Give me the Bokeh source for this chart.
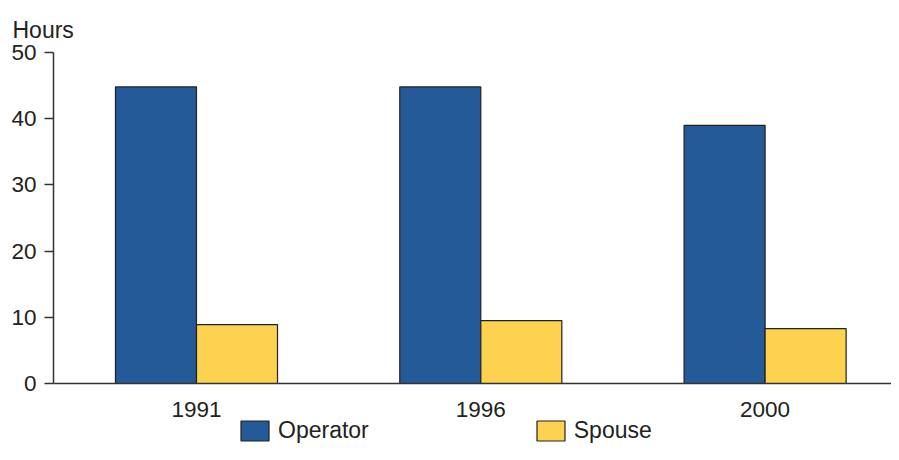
from bokeh.plotting import figure
from bokeh.models import Range1d, FixedTicker, Legend, LegendItem, ColumnDataSource, Span
from bokeh.embed import file_html
from bokeh.resources import INLINE
from bokeh.core.properties import value

years = ["1991", "1996", "2000"]
operator = [44.8, 44.8, 39.0]
spouse = [8.9, 9.5, 8.3]
series_names = ["Operator", "Spouse"]
y_ticks = [0, 10, 20, 30, 40, 50]

BLUE = "#235A97"
YELLOW = "#FDD24E"
FONT = "Liberation Sans"
TXT = "#222222"
AX = "#333333"

idx = list(range(len(years)))
bw = 0.285

W = 891
H = 444
TOP = 52
ZERO_PX = TOP + 331
PX_PER_UNIT = 331 / 50.0
y_start = -(H - ZERO_PX) / PX_PER_UNIT
UNIT_X = 284.3
x_start = -(196 - 53) / UNIT_X
x_end = (W - 196) / UNIT_X

# frame spans from the top border to canvas bottom; y below 0 holds the category labels and legend
p = figure(width=W, height=H, output_backend="svg", toolbar_location=None,
           x_range=Range1d(x_start, x_end), y_range=Range1d(y_start, 50),
           x_axis_location=None,
           min_border_left=53, min_border_right=0, min_border_top=TOP, min_border_bottom=0)
p.outline_line_color = None
p.grid.grid_line_color = None
p.background_fill_color = "white"
p.border_fill_color = "white"

p.title.text = "Hours"
p.title.align = "left"
p.title.offset = -41
p.title.text_font = FONT
p.title.text_font_size = "23px"
p.title.text_font_style = "normal"
p.title.text_color = TXT
p.title.standoff = 20

src_op = ColumnDataSource(dict(x=[i - bw / 2 for i in idx], top=operator))
src_sp = ColumnDataSource(dict(x=[i + bw / 2 for i in idx], top=spouse))
r_op = p.vbar(x="x", top="top", bottom=0, width=bw, source=src_op,
              fill_color=BLUE, line_color="#222222", line_width=1.2)
r_sp = p.vbar(x="x", top="top", bottom=0, width=bw, source=src_sp,
              fill_color=YELLOW, line_color="#222222", line_width=1.2)

# category axis: baseline line and labels
p.add_layout(Span(location=0, dimension="width", line_color=AX, line_width=1.5))
p.text(x=idx, y=[0] * len(idx), text=years, y_offset=26,
       text_align="center", text_baseline="alphabetic",
       text_font=value(FONT), text_font_size="22.5px", text_color=TXT)

# y axis
ya = p.yaxis[0]
ya.bounds = (0, 50)
ya.ticker = FixedTicker(ticks=y_ticks)
ya.major_tick_out = 9
ya.major_tick_in = 0
ya.major_tick_line_color = AX
ya.major_tick_line_width = 1.5
ya.minor_tick_line_color = None
ya.major_label_standoff = 8
ya.major_label_text_font = FONT
ya.major_label_text_font_size = "22.5px"
ya.major_label_text_color = TXT
ya.axis_line_color = AX
ya.axis_line_width = 1.5

legend = Legend(items=[LegendItem(label=series_names[0], renderers=[r_op]),
                       LegendItem(label=series_names[1], renderers=[r_sp])],
                location=(184, 0), orientation="horizontal",
                glyph_width=35, glyph_height=25, label_standoff=6, spacing=164,
                padding=0, margin=0, border_line_color=None, background_fill_alpha=0,
                label_text_font=FONT, label_text_font_size="23px", label_text_color=TXT)
p.add_layout(legend, "center")

open("out.html", "w").write(file_html(p, INLINE))
